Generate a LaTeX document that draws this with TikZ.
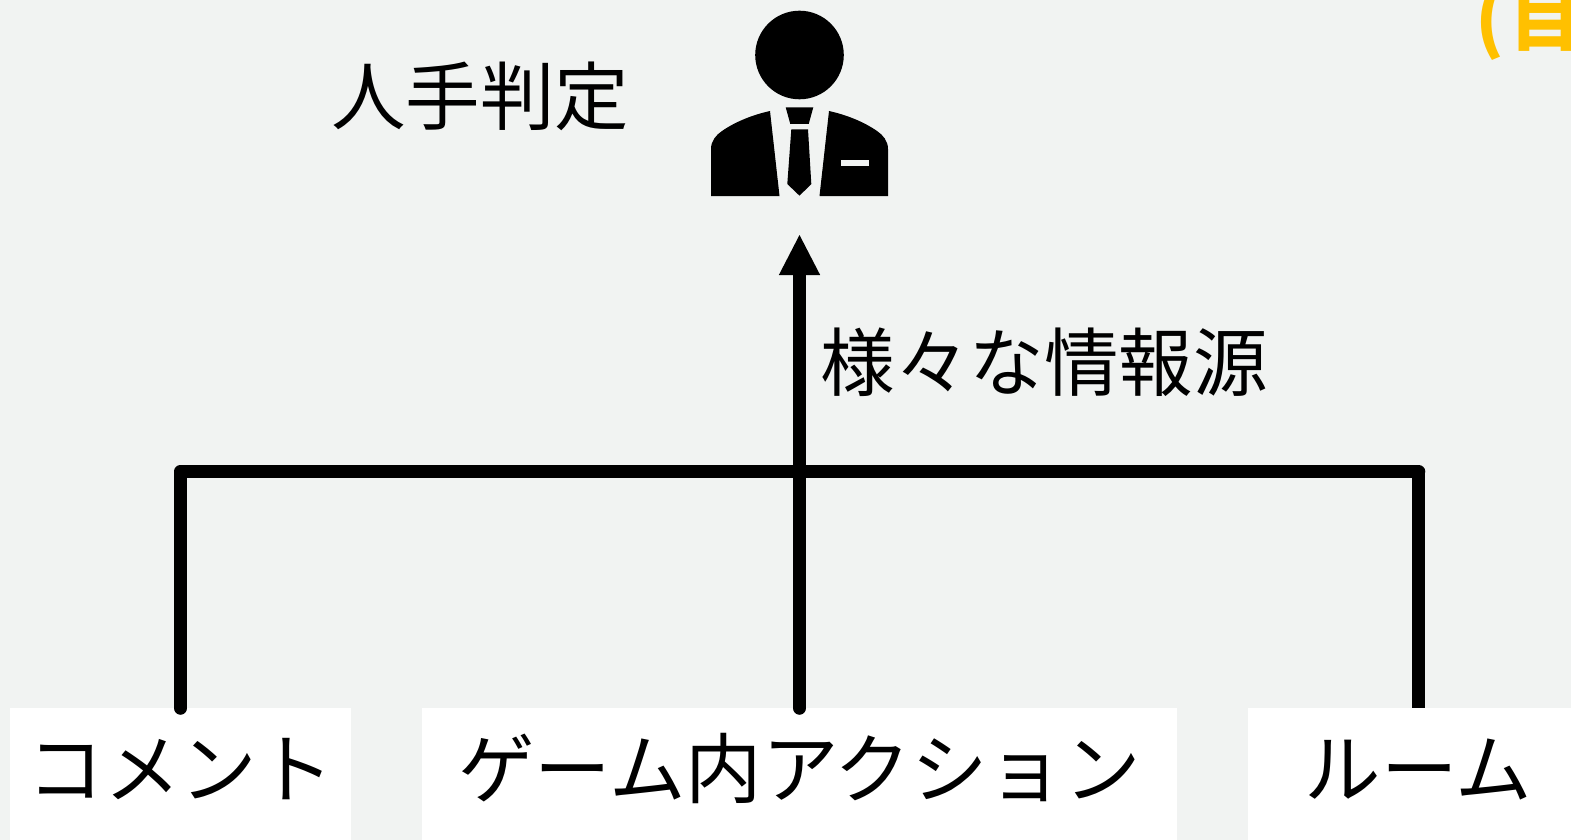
\documentclass[tikz,border=0pt]{standalone}
\usepackage{fontspec}
\setmainfont{Noto Sans CJK JP}
\usetikzlibrary{arrows.meta}
\definecolor{pagegray}{HTML}{F1F3F2}
\definecolor{cutorange}{HTML}{FFC000}

\begin{document}
\begin{tikzpicture}
[x=1pt,y=-1pt,%
  lineDecorate/.style={line width=13.5pt,line join=round},%
  sourceDecorate/.style={shape=rectangle,fill=white,inner sep=0pt,minimum width=#1,text height=89pt,text depth=51pt,anchor=north,font=\fontsize{76.5}{80}\selectfont},%
  labelDecorate/.style={inner sep=0pt,font=\fontsize{#1}{80}\selectfont},%
  iconDecorate/.style={fill=black,draw=none}]
\clip (0,0) rectangle (1571,840);
\fill[pagegray] (0,0) rectangle (1571,840);
%% source boxes
\foreach \nodename/\x/\w/\txt in {comment/180.5/341pt/コメント, action/799.5/755pt/ゲーム内アクション, room/1418.5/341pt/ルーム}
{
  \node (\nodename) at (\x,708) [sourceDecorate=\w] {\txt};
}
%% labels
\node (judgeLabel) at (480,96) [labelDecorate=74.5] {人手判定};
\node (infoLabel) at (1044,362) [labelDecorate=74.5] {様々な情報源};
\node (cutLabel) at (1475,46) [labelDecorate=73,anchor=base west,text=cutorange] {\bfseries (\hspace{5pt}目};
%% person icon
\node (head) at (799.5,55) [shape=circle,iconDecorate,minimum size=88.6pt,inner sep=0pt] {};
\fill[iconDecorate] (711,196) -- (711,149) .. controls (711,141) and (716,135) .. (722,131) .. controls (735,122) and (752,115) .. (770,111) -- (779.5,196) -- cycle;
\fill[iconDecorate] (888,196) -- (888,149) .. controls (888,141) and (883,135) .. (877,131) .. controls (864,122) and (847,115) .. (829,111) -- (819.5,196) -- cycle;
\fill[iconDecorate] (785.7,107.3) -- (813.3,107.3) -- (808.7,124) -- (790.3,124) -- cycle;
\fill[iconDecorate] (791.3,129.3) -- (808,129.3) -- (811.3,184) -- (799.5,195.7) -- (787.3,184) -- cycle;
\fill[pagegray] (841,160) rectangle (869,165.7);
%% connectors
\coordinate (arrowTip) at (799.5,234);
\coordinate (roomCorner) at (room.north |- 0,471.5);
\draw[lineDecorate,line cap=round] (comment.north) |- (roomCorner);
\draw[lineDecorate] (roomCorner) -- (room.north);
\draw[lineDecorate,line cap=round,-{Triangle[width=38pt,length=41pt]}] (action.north) -- (arrowTip);
\end{tikzpicture}
\end{document}
